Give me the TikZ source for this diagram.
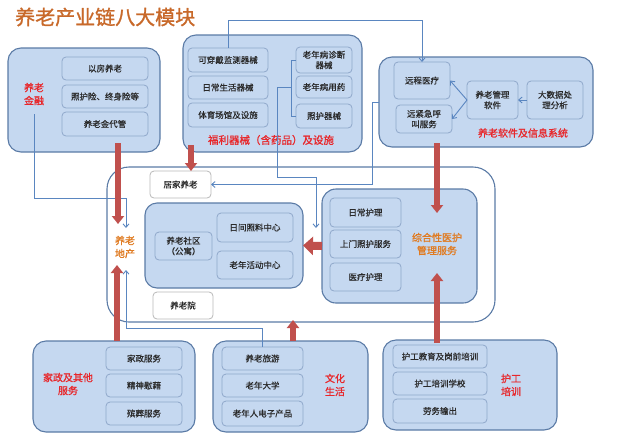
\documentclass[tikz,border=0pt]{standalone}
\usepackage{fontspec}
\setmainfont{Noto Sans CJK SC}
\newfontfamily\cjkb{Noto Sans CJK SC}[FakeBold=1.2]
\newfontfamily\cjkm{Noto Sans CJK SC}[FakeBold=0.6]
\usetikzlibrary{arrows.meta,calc}
\definecolor{fillc}{HTML}{C5D8F0}
\definecolor{outerc}{HTML}{5B7BA6}
\definecolor{innerc}{HTML}{8FA8CA}
\definecolor{redc}{HTML}{C0504D}
\definecolor{lblred}{HTML}{E8262A}
\definecolor{lblorange}{HTML}{E07B22}
\definecolor{titlec}{HTML}{C8692A}
\definecolor{bluec}{HTML}{5A86C0}
\definecolor{txtc}{HTML}{2A2A2A}
\begin{document}
\begin{tikzpicture}[x=1pt,y=-1pt,
  outerbox/.style={draw=outerc, fill=fillc, line width=1.1pt, rounded corners=13pt, inner sep=0pt, outer sep=0pt},
  innerbox/.style={draw=innerc, fill=fillc, line width=0.8pt, rounded corners=4pt, inner sep=0pt, outer sep=0pt, font=\cjkm\fontsize{8.5}{10.5}\selectfont, text=txtc, align=center},
  whitebox/.style={innerbox, draw=gray!55, fill=white},
  redlbl/.style={font=\cjkb\fontsize{10}{13}\selectfont, text=lblred, align=center, inner sep=0pt},
  orglbl/.style={redlbl, text=lblorange},
  redarrow/.style={draw=redc, line width=6pt, -{Triangle[width=12pt,length=8pt]}},
  bluearrow/.style={draw=bluec, line width=0.9pt, -{Straight Barb[length=3.5pt,width=6pt]}},
  blueline/.style={draw=bluec, line width=0.9pt}
]
\useasboundingbox (0,0) rectangle (640,440);

% title
\node[anchor=west, font=\cjkb\fontsize{20}{24}\selectfont, text=titlec, inner sep=0pt] (title) at (15,17) {养老产业链八大模块};

% big central frame
\node[draw=outerc, fill=white, line width=1.1pt, rounded corners=22pt, minimum width=388pt, minimum height=155pt, inner sep=0pt] (frame) at (301,244.5) {};

% finance
\node[outerbox, minimum width=152pt, minimum height=104pt] (fin) at (84,100) {};
\node[innerbox, minimum width=86pt, minimum height=23pt] (house) at (105,68.5) {以房养老};
\node[innerbox, minimum width=86pt, minimum height=23pt] (insur) at (105,96.5) {照护险、终身险等};
\node[innerbox, minimum width=86pt, minimum height=24pt] (pension) at (105,124) {养老金代管};
\node[redlbl] (finlbl) at (34,94) {养老\\金融};

% welfare devices
\node[outerbox, minimum width=179pt, minimum height=117pt] (welf) at (272.5,93.5) {};
\node[innerbox, minimum width=80pt, minimum height=24pt] (wear) at (228,60) {可穿戴监测器械};
\node[innerbox, minimum width=80pt, minimum height=23pt] (daily) at (228,87.5) {日常生活器械};
\node[innerbox, minimum width=80pt, minimum height=24pt] (sport) at (228,115) {体育场馆及设施};
\node[innerbox, minimum width=56pt, minimum height=26pt] (diag) at (324,60) {老年病诊断\\器械};
\node[innerbox, minimum width=56pt, minimum height=22pt] (med) at (324,87) {老年病用药};
\node[innerbox, minimum width=56pt, minimum height=24pt] (care) at (324,116) {照护器械};
\node[redlbl, font=\cjkb\fontsize{10.5}{13}\selectfont] (welflbl) at (271,140) {福利器械（含药品）及设施};

% software
\node[outerbox, minimum width=214pt, minimum height=90pt] (soft) at (486,102) {};
\node[innerbox, minimum width=56pt, minimum height=37pt] (remote) at (422,80.5) {远程医疗};
\node[innerbox, minimum width=56pt, minimum height=28pt] (emerg) at (424,119) {远紧急呼\\叫服务};
\node[innerbox, minimum width=51pt, minimum height=38pt] (mgmt) at (492.5,100) {养老管理\\软件};
\node[innerbox, minimum width=56pt, minimum height=38pt] (bigdata) at (555,100) {大数据处\\理分析};
\node[redlbl] (softlbl) at (523,133) {养老软件及信息系统};

% inside frame
\node[whitebox, minimum width=61pt, minimum height=27pt] (home) at (180.5,184.5) {居家养老};
\node[outerbox, rounded corners=12pt, minimum width=158pt, minimum height=85pt] (comm) at (224,245.5) {};
\node[innerbox, minimum width=76pt, minimum height=29pt] (daycare) at (255,227.5) {日间照料中心};
\node[innerbox, minimum width=76pt, minimum height=28pt] (activity) at (255,265) {老年活动中心};
\node[innerbox, minimum width=57pt, minimum height=28pt] (apart) at (183.5,246) {养老社区\\（公寓）};
\node[whitebox, minimum width=60pt, minimum height=27pt] (nursing) at (183,305.5) {养老院};
\node[orglbl] (land) at (125,247) {养老\\地产};

\node[outerbox, rounded corners=14pt, minimum width=155pt, minimum height=114pt] (medc) at (399.5,246) {};
\node[innerbox, minimum width=71pt, minimum height=29pt] (dcare) at (365.5,212.5) {日常护理};
\node[innerbox, minimum width=71pt, minimum height=28pt] (visit) at (365.5,244) {上门照护服务};
\node[innerbox, minimum width=71pt, minimum height=28pt] (mcare) at (365.5,277) {医疗护理};
\node[orglbl] (medlbl) at (437,244) {综合性医护\\管理服务};

% bottom: household
\node[outerbox, minimum width=162pt, minimum height=91pt] (hh) at (114,386.5) {};
\node[innerbox, minimum width=76pt, minimum height=23pt] (hserv) at (144,358.5) {家政服务};
\node[innerbox, minimum width=76pt, minimum height=23pt] (spirit) at (144,385.5) {精神慰藉};
\node[innerbox, minimum width=76pt, minimum height=23pt] (funeral) at (144,413.5) {殡葬服务};
\node[redlbl] (hhlbl) at (68,384) {家政及其他\\服务};

% bottom: culture
\node[outerbox, minimum width=155pt, minimum height=91pt] (cult) at (290.5,386.5) {};
\node[innerbox, minimum width=81pt, minimum height=23pt] (tour) at (262.5,358.5) {养老旅游};
\node[innerbox, minimum width=81pt, minimum height=23pt] (univ) at (262.5,385.5) {老年大学};
\node[innerbox, minimum width=81pt, minimum height=25pt] (elec) at (262.5,413.5) {老年人电子产品};
\node[redlbl] (cultlbl) at (335,385) {文化\\生活};

% bottom: training
\node[outerbox, minimum width=174pt, minimum height=90pt] (train) at (470,385) {};
\node[innerbox, minimum width=94pt, minimum height=23pt] (edu) at (440,356.5) {护工教育及岗前培训};
\node[innerbox, minimum width=94pt, minimum height=23pt] (school) at (440,383.5) {护工培训学校};
\node[innerbox, minimum width=94pt, minimum height=24pt] (labor) at (440,411) {劳务输出};
\node[redlbl] (trainlbl) at (511,385) {护工\\培训};

% free ends
\coordinate (landtopR) at (118,224);
\coordinate (landtopB) at (126,228);
\coordinate (landbotR) at (117,265);
\coordinate (landbotB) at (126,270);
\coordinate (medtop) at (437,213);
\coordinate (medbot) at (437,273);
\coordinate (frbot) at (293,320);
\coordinate (gap) at (316,228);

% blue connectors
\draw[bluearrow] (wear.north) -- ++(0,-28) -| (remote.north);
\draw[blueline] (diag.west) -- ++(-5,0) |- (care.west);
\draw[bluearrow] ([xshift=-5pt]med.west) -- ++(-14,0) -- ++(0,90) -| (gap);
\draw[bluearrow] (soft.west) -- ++(-7,0) |- (home.east);
\draw[bluearrow] ([yshift=-9pt]finlbl.south) -- ++(0,84) -| (landtopB);
\draw[bluearrow] (tour.north) -- ++(0,-19) -| (landbotB);
\draw[bluearrow] (mgmt.west) -- (remote.east);
\draw[bluearrow] (mgmt.west) -- (emerg.east);
\draw[bluearrow] (bigdata.west) -- (mgmt.east);

% red arrows
\draw[redarrow] ([xshift=34pt,yshift=9pt]fin.south) -- (landtopR);
\draw[redarrow] ([xshift=-81.5pt,yshift=7pt]welf.south) -- ([xshift=10.5pt]home.north);
\draw[redarrow] ([xshift=-49pt,yshift=4pt]soft.south) -- (medtop);
\draw[redarrow] ([xshift=-33pt,yshift=-3pt]train.north) -- (medbot);
\draw[redarrow] ([xshift=3pt]hh.north) -- (landbotR);
\draw[redarrow] ([xshift=2.5pt]cult.north) -- (frbot);
\draw[draw=redc, line width=8pt, -{Triangle[width=18pt,length=10pt]}] (medc.west) -- (comm.east);
\end{tikzpicture}
\end{document}
